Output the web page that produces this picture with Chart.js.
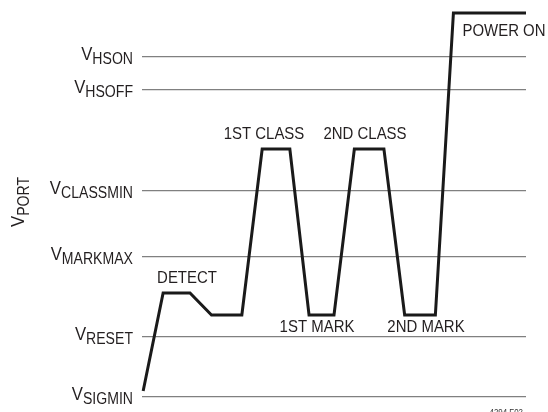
<!DOCTYPE html>
<html>
<head>
<meta charset="utf-8">
<script src="https://cdn.jsdelivr.net/npm/chart.js@4.4.1/dist/chart.umd.min.js"></script>
<style>
  body { margin: 0; background: #fff; }
  #wrap { width: 548px; height: 412px; position: relative; }
</style>
</head>
<body>
<div id="wrap"><canvas id="portChart" width="548" height="412"></canvas></div>
<script>
// threshold levels (arbitrary volts) and their names
const levelNames = ["SIGMIN", "RESET", "MARKMAX", "CLASSMIN", "HSOFF", "HSON"];
const levelValues = [0, 6.0, 14.0, 20.6, 30.7, 34.0];

// V_PORT waveform, time in arbitrary units (0..100)
const timePoints = [0.3, 5.5, 12.5, 18.1, 26.0, 31.3, 38.5, 43.5, 50.0, 55.3, 63.0, 68.4, 76.4, 81.1, 100];
const portVoltage = [0.6, 10.4, 10.4, 8.2, 8.2, 24.8, 24.8, 8.2, 8.2, 24.8, 24.8, 8.2, 8.2, 38.4, 38.4];

const eventLabels = ["DETECT", "1ST CLASS", "2ND CLASS", "1ST MARK", "2ND MARK", "POWER ON"];

const FONT = '"Liberation Sans", Arial, sans-serif';
const NARROW = 0.88; // squeeze to look like a condensed face

// measure text width after squeeze
function textWidth(ctx, txt, size) {
  ctx.font = size + "px " + FONT;
  return ctx.measureText(txt).width * NARROW;
}

// draw left-aligned squeezed text
function narrowText(ctx, txt, x, y, size) {
  ctx.save();
  ctx.font = size + "px " + FONT;
  ctx.textAlign = "left";
  ctx.translate(x, y);
  ctx.scale(NARROW, 1);
  ctx.fillText(txt, 0, 0);
  ctx.restore();
}

const labelsPlugin = {
  id: "labels",
  afterDraw(chart) {
    const ctx = chart.ctx;
    const yScale = chart.scales.y;
    ctx.save();
    ctx.fillStyle = "#231f20";
    ctx.textBaseline = "alphabetic";

    // level labels: V with subscript, right aligned
    levelNames.forEach((name, i) => {
      const y = yScale.getPixelForValue(levelValues[i]);
      const wV = textWidth(ctx, "V", 19);
      const wS = textWidth(ctx, name, 16);
      const x0 = 133 - wV - wS;
      narrowText(ctx, "V", x0, y + 3, 19);
      narrowText(ctx, name, x0 + wV, y + 7, 16);
    });

    // event labels, centred
    const pos = [[187, 283], [264, 139], [365, 139], [317, 332], [426, 332], [504, 36]];
    eventLabels.forEach((t, i) => {
      const w = textWidth(ctx, t, 17);
      narrowText(ctx, t, pos[i][0] - w / 2, pos[i][1], 17);
    });

    // axis title V_PORT, rotated
    ctx.save();
    ctx.translate(24, 227);
    ctx.rotate(-Math.PI / 2);
    const wV = textWidth(ctx, "V", 19);
    narrowText(ctx, "V", 0, 0, 19);
    narrowText(ctx, "PORT", wV, 5, 16);
    ctx.restore();

    // figure tag
    ctx.fillStyle = "#333";
    const wt = textWidth(ctx, "4294 F02", 9);
    narrowText(ctx, "4294 F02", 523 - wt, 415, 9);
    ctx.restore();
  }
};

new Chart(document.getElementById("portChart"), {
  type: "line",
  data: {
    datasets: [
      {
        label: "VPORT",
        data: timePoints.map((t, i) => ({ x: t, y: portVoltage[i] })),
        borderColor: "#1a1a1a",
        borderWidth: 3,
        borderJoinStyle: "miter",
        pointRadius: 0,
        tension: 0,
        fill: false,
        clip: false
      }
    ]
  },
  options: {
    responsive: false,
    animation: false,
    layout: { autoPadding: false, padding: { left: 142, right: 22, top: 10, bottom: 15 } },
    plugins: { legend: { display: false }, tooltip: { enabled: false } },
    scales: {
      x: { type: "linear", min: 0, max: 100, display: false },
      y: {
        type: "linear",
        min: 0,
        max: 38.7,
        afterBuildTicks(scale) {
          scale.ticks = levelValues.map(v => ({ value: v }));
        },
        ticks: { display: false },
        border: { display: false },
        grid: { drawTicks: false, color: "#808080", lineWidth: 1.2 }
      }
    }
  },
  plugins: [labelsPlugin]
});
</script>
</body>
</html>
